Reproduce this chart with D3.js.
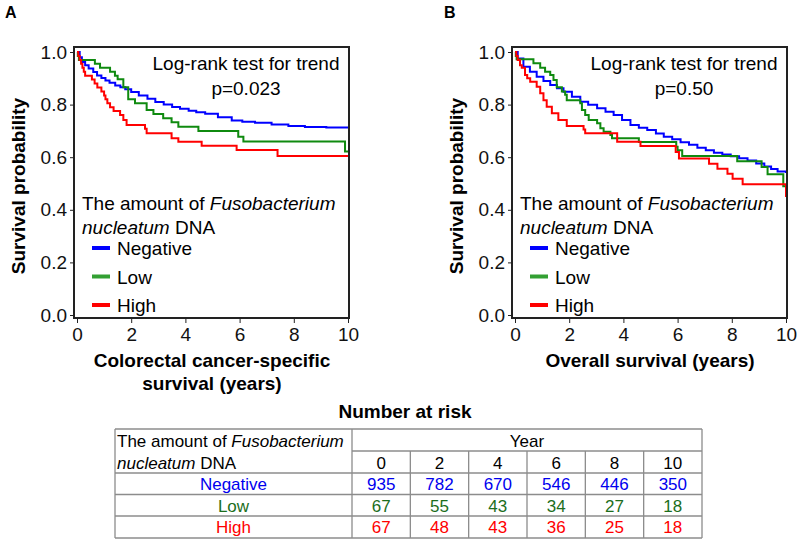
<!DOCTYPE html>
<html>
<head>
<meta charset="utf-8">
<script src="https://cdn.jsdelivr.net/npm/d3@7"></script>
<style>
  body { margin: 0; background: #fff; }
  svg { display: block; font-family: "Liberation Sans", Arial, sans-serif; }
</style>
</head>
<body>
<svg id="chart" width="800" height="543"></svg>
<script>
// ---------------- DATA ----------------
const groups = ["Negative", "Low", "High"];
const yTicks = [0, 0.2, 0.4, 0.6, 0.8, 1.0];
const xTicks = [0, 2, 4, 6, 8, 10];

// Panel A: colorectal cancer-specific survival  [years, survival]
const crcNegative = [[0,1.0],[0.1,0.98],[0.18,0.962],[0.3,0.95],[0.43,0.937],[0.6,0.924],[0.74,0.911],[0.9,0.901],[1.05,0.892],[1.2,0.883],[1.41,0.873],[1.6,0.866],[1.78,0.858],[2.0,0.848],[2.28,0.835],[2.6,0.822],[2.89,0.81],[3.2,0.8],[3.51,0.791],[3.8,0.784],[4.12,0.777],[4.4,0.771],[4.73,0.765],[5.2,0.752],[5.71,0.74],[6.1,0.735],[6.57,0.731],[7.18,0.724],[7.8,0.719],[8.41,0.715],[9.2,0.713],[10,0.711]];
const crcLow = [[0,1.0],[0.03,0.985],[0.07,0.97],[0.66,0.955],[0.85,0.94],[1.22,0.925],[1.4,0.91],[1.5,0.896],[1.71,0.866],[1.89,0.82],[2.14,0.805],[2.57,0.779],[2.82,0.764],[3.18,0.748],[3.49,0.733],[3.74,0.716],[4.48,0.7],[5.95,0.678],[6.14,0.66],[9.89,0.622],[10,0.622]];
const crcHigh = [[0,1.0],[0.05,0.985],[0.1,0.97],[0.15,0.955],[0.2,0.94],[0.25,0.925],[0.3,0.91],[0.55,0.895],[0.65,0.88],[0.75,0.865],[0.9,0.85],[1.0,0.835],[1.05,0.82],[1.12,0.805],[1.22,0.79],[1.35,0.776],[1.59,0.76],[1.71,0.741],[1.83,0.722],[2.51,0.708],[2.57,0.691],[3.49,0.672],[3.74,0.659],[4.6,0.644],[5.89,0.627],[7.4,0.605],[10,0.605]];

// Panel B: overall survival  [years, survival]
const osNegative = [[0,1.0],[0.1,0.975],[0.31,0.944],[0.55,0.925],[0.8,0.906],[1.05,0.89],[1.3,0.875],[1.55,0.862],[1.79,0.849],[2.1,0.83],[2.41,0.811],[2.7,0.799],[3.03,0.786],[3.34,0.773],[3.64,0.76],[3.95,0.741],[4.26,0.722],[4.57,0.712],[4.88,0.703],[5.2,0.69],[5.49,0.678],[5.8,0.668],[6.11,0.657],[6.42,0.647],[6.73,0.636],[7.04,0.626],[7.34,0.617],[7.65,0.61],[7.96,0.604],[8.27,0.596],[8.58,0.587],[8.9,0.576],[9.2,0.565],[9.45,0.555],[9.69,0.546],[10,0.54]];
const osLow = [[0,1.0],[0.03,0.985],[0.06,0.972],[0.68,0.957],[0.93,0.94],[1.11,0.925],[1.3,0.913],[1.42,0.894],[1.54,0.866],[1.73,0.85],[1.85,0.837],[1.91,0.817],[2.41,0.805],[2.47,0.779],[2.59,0.76],[2.72,0.741],[3.03,0.729],[3.15,0.71],[3.27,0.697],[3.52,0.684],[3.58,0.672],[4.57,0.658],[5.95,0.64],[6.0,0.626],[6.17,0.605],[8.2,0.585],[9.1,0.563],[9.32,0.535],[9.9,0.49],[10,0.49]];
const osHigh = [[0,1.0],[0.05,0.985],[0.1,0.97],[0.185,0.95],[0.25,0.94],[0.37,0.913],[0.45,0.9],[0.56,0.887],[0.8,0.868],[0.93,0.843],[1.05,0.817],[1.17,0.792],[1.36,0.767],[1.6,0.741],[1.91,0.719],[2.53,0.705],[2.59,0.691],[3.77,0.659],[4.63,0.643],[5.93,0.62],[6.05,0.595],[7.16,0.575],[7.47,0.556],[7.84,0.537],[8.03,0.518],[8.4,0.497],[10,0.497],[10,0.449]];

// Number at risk table
const riskYears = [0, 2, 4, 6, 8, 10];
const riskNegative = [935, 782, 670, 546, 446, 350];
const riskLow = [67, 55, 43, 34, 27, 18];
const riskHigh = [67, 48, 43, 36, 25, 18];

// ---------------- DRAW ----------------
const svg = d3.select("#chart");
const curveColors = { Negative: "#0000ff", Low: "#0f8a0f", High: "#ff0000" };
const legendColors = { Negative: "#0000ff", Low: "#33a033", High: "#ff0000" };
const tableColors = { Negative: "#0000ee", Low: "#1c6e1c", High: "#ff0000" };

const yScale = d3.scaleLinear().domain([0, 1]).range([315, 52]);

function drawPanel(opt) {
  const g = svg.append("g");
  const x = d3.scaleLinear().domain([0, 10]).range([opt.x0, opt.x0 + 271]);
  const bx = opt.x0 - 3;

  // panel letter
  g.append("text").attr("x", opt.letterX).attr("y", 18)
    .attr("font-size", 16).attr("font-weight", "bold").text(opt.letter);

  // curves
  const line = d3.line().x(d => x(d[0])).y(d => yScale(d[1])).curve(d3.curveStepAfter);
  opt.series.forEach((s, i) => {
    g.append("path").datum(s).attr("d", line)
      .attr("fill", "none").attr("stroke", curveColors[groups[i]])
      .attr("stroke-width", 2);
  });

  // box
  g.append("rect").attr("x", bx).attr("y", 47).attr("width", 275).attr("height", 271)
    .attr("fill", "none").attr("stroke", "#222").attr("stroke-width", 2);

  // y axis
  const ya = g.append("g").attr("transform", `translate(${bx},0)`)
    .call(d3.axisLeft(yScale).tickValues(yTicks).tickFormat(d3.format(".1f")).tickSize(4).tickPadding(3));
  ya.select(".domain").remove();
  ya.selectAll("text").attr("font-size", 19).attr("font-family", "Liberation Sans, Arial, sans-serif").attr("fill", "#111");
  ya.selectAll("line").attr("stroke", "#222");

  // x axis
  const xa = g.append("g").attr("transform", "translate(0,318)")
    .call(d3.axisBottom(x).tickValues(xTicks).tickSize(5).tickPadding(5));
  xa.select(".domain").remove();
  xa.selectAll("text").attr("font-size", 19).attr("font-family", "Liberation Sans, Arial, sans-serif").attr("fill", "#111");
  xa.selectAll("line").attr("stroke", "#222");

  // y title
  g.append("text").attr("transform", `translate(${opt.x0 - 52},186) rotate(-90)`)
    .attr("text-anchor", "middle").attr("font-size", 19).attr("font-weight", "bold")
    .text("Survival probability");

  // x title
  const cx = opt.x0 + 135;
  opt.xTitle.forEach((t, i) => {
    g.append("text").attr("x", cx).attr("y", 367 + i * 23).attr("text-anchor", "middle")
      .attr("font-size", 19).attr("font-weight", "bold").text(t);
  });

  // test annotation
  const ax = opt.x0 + 169;
  g.append("text").attr("x", ax).attr("y", 70).attr("text-anchor", "middle")
    .attr("font-size", 19).text("Log-rank test for trend");
  g.append("text").attr("x", ax).attr("y", 95).attr("text-anchor", "middle")
    .attr("font-size", 19).text(opt.p);

  // legend
  const lx = opt.x0 + 5;
  const t1 = g.append("text").attr("x", lx).attr("y", 210).attr("font-size", 19);
  t1.append("tspan").text("The amount of ");
  t1.append("tspan").attr("font-style", "italic").text("Fusobacterium");
  const t2 = g.append("text").attr("x", lx).attr("y", 234).attr("font-size", 19);
  t2.append("tspan").attr("font-style", "italic").text("nucleatum");
  t2.append("tspan").text(" DNA");
  groups.forEach((name, i) => {
    const yy = 248 + i * 28.5;
    g.append("line").attr("x1", lx + 10).attr("x2", lx + 28).attr("y1", yy).attr("y2", yy)
      .attr("stroke", legendColors[name]).attr("stroke-width", 4);
    g.append("text").attr("x", lx + 35).attr("y", yy + 7).attr("font-size", 19).text(name);
  });
}

drawPanel({ letter: "A", letterX: 5, x0: 77, p: "p=0.023",
  series: [crcNegative, crcLow, crcHigh], xTitle: ["Colorectal cancer-specific", "survival (years)"] });
drawPanel({ letter: "B", letterX: 444, x0: 515, p: "p=0.50",
  series: [osNegative, osLow, osHigh], xTitle: ["Overall survival (years)"] });

// ---------------- TABLE ----------------
const tg = svg.append("g");
tg.append("text").attr("x", 405).attr("y", 418).attr("text-anchor", "middle")
  .attr("font-size", 19).attr("font-weight", "bold").text("Number at risk");

const tLeft = 115, tRight = 702, col1 = 352;
const colX = d3.scaleBand().domain(riskYears).range([col1, tRight]);
const rowTops = [429, 451, 473, 494.5, 516, 538];
const gridColor = "#8c8c8c";

function hline(x1, x2, yy) {
  tg.append("line").attr("x1", x1).attr("x2", x2).attr("y1", yy).attr("y2", yy)
    .attr("stroke", gridColor).attr("stroke-width", 1.3);
}
function vline(xx, y1, y2) {
  tg.append("line").attr("x1", xx).attr("x2", xx).attr("y1", y1).attr("y2", y2)
    .attr("stroke", gridColor).attr("stroke-width", 1.3);
}
hline(tLeft, tRight, rowTops[0]);
hline(col1, tRight, rowTops[1]);
[2, 3, 4, 5].forEach(i => hline(tLeft, tRight, rowTops[i]));
vline(tLeft, rowTops[0], rowTops[5]);
vline(tRight, rowTops[0], rowTops[5]);
vline(col1, rowTops[0], rowTops[5]);
riskYears.slice(1).forEach(yv => vline(colX(yv), rowTops[1], rowTops[5]));

const h1 = tg.append("text").attr("x", tLeft + 2).attr("y", 447).attr("font-size", 17);
h1.append("tspan").text("The amount of ");
h1.append("tspan").attr("font-style", "italic").text("Fusobacterium");
const h2 = tg.append("text").attr("x", tLeft + 2).attr("y", 469).attr("font-size", 17);
h2.append("tspan").attr("font-style", "italic").text("nucleatum");
h2.append("tspan").text(" DNA");
tg.append("text").attr("x", (col1 + tRight) / 2).attr("y", 447).attr("text-anchor", "middle")
  .attr("font-size", 17).text("Year");
riskYears.forEach(yv => {
  tg.append("text").attr("x", colX(yv) + colX.bandwidth() / 2).attr("y", 469)
    .attr("text-anchor", "middle").attr("font-size", 17).text(yv);
});
const riskRows = [riskNegative, riskLow, riskHigh];
groups.forEach((name, i) => {
  const base = rowTops[i + 2] + 17;
  tg.append("text").attr("x", (tLeft + col1) / 2).attr("y", base).attr("text-anchor", "middle")
    .attr("font-size", 17).attr("fill", tableColors[name]).text(name);
  riskRows[i].forEach((v, j) => {
    const yv = riskYears[j];
    tg.append("text").attr("x", colX(yv) + colX.bandwidth() / 2).attr("y", base)
      .attr("text-anchor", "middle").attr("font-size", 17).attr("fill", tableColors[name]).text(v);
  });
});
</script>
</body>
</html>
